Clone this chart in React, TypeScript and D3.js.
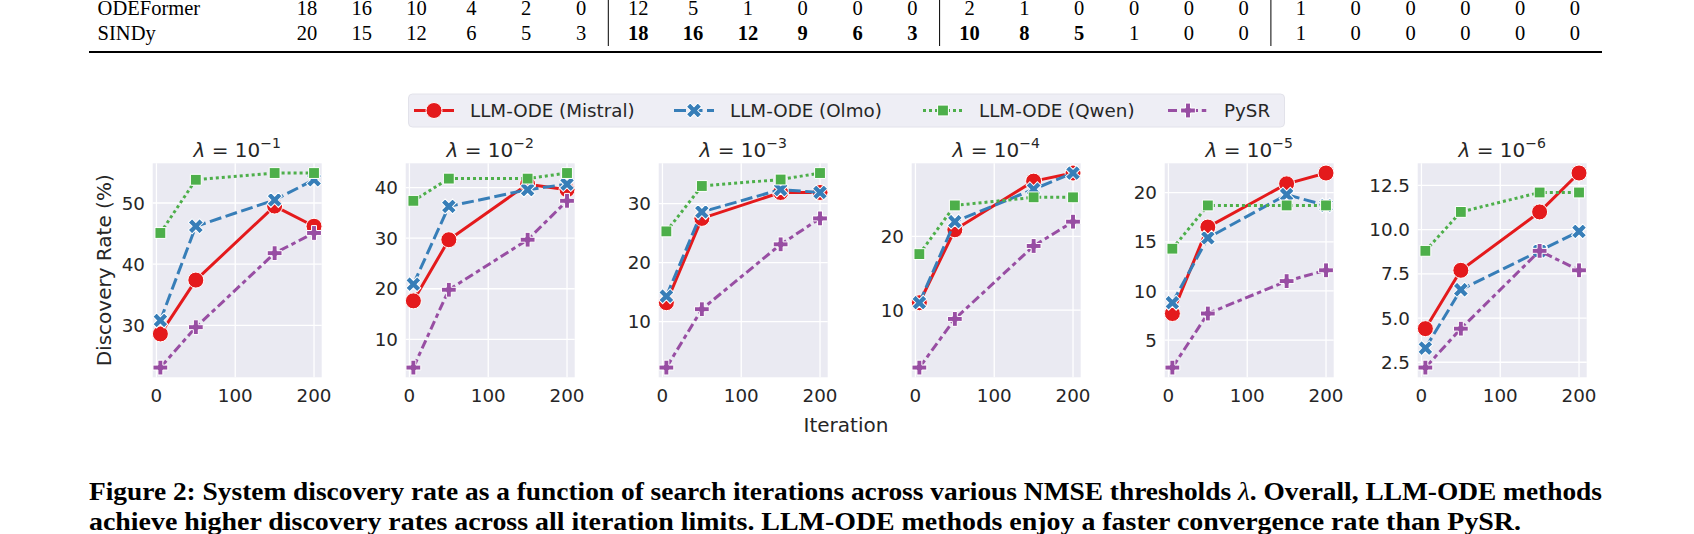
import * as d3 from 'd3'

// iterations on the x axis, shared by all panels
const iterations = [5, 50, 150, 200]
// NMSE threshold exponents, one panel each
const exponents = [-1, -2, -3, -4, -5, -6]

// discovery rate (%) per panel, per iteration
const mistral = [
  [28.6, 37.4, 49.5, 46.2],
  [17.6, 29.7, 40.7, 39.6],
  [13.2, 27.5, 31.9, 31.9],
  [11.0, 20.9, 27.5, 28.6],
  [7.7, 16.5, 20.9, 22.0],
  [4.4, 7.7, 11.0, 13.2],
]
const olmo = [
  [30.8, 46.2, 50.5, 53.8],
  [20.9, 36.3, 39.6, 40.7],
  [14.3, 28.6, 32.4, 31.9],
  [11.0, 22.0, 26.4, 28.6],
  [8.8, 15.4, 19.8, 18.7],
  [3.3, 6.6, 8.8, 9.9],
]
const qwen = [
  [45.1, 53.8, 54.9, 54.9],
  [37.4, 41.8, 41.8, 42.9],
  [25.3, 33.0, 34.1, 35.2],
  [17.6, 24.2, 25.3, 25.3],
  [14.3, 18.7, 18.7, 18.7],
  [8.8, 11.0, 12.1, 12.1],
]
const pysr = [
  [23.1, 29.7, 41.8, 45.1],
  [4.4, 19.8, 29.7, 37.4],
  [2.2, 12.1, 23.1, 27.5],
  [2.2, 8.8, 18.7, 22.0],
  [2.2, 7.7, 11.0, 12.1],
  [2.2, 4.4, 8.8, 7.7],
]

const seriesNames = ['LLM-ODE (Mistral)', 'LLM-ODE (Olmo)', 'LLM-ODE (Qwen)', 'PySR']

const xTicks = [0, 100, 200]
const yTicks = [
  [30, 40, 50],
  [10, 20, 30, 40],
  [10, 20, 30],
  [10, 20],
  [5, 10, 15, 20],
  [2.5, 5, 7.5, 10, 12.5],
]
const yTickDecimals = [0, 0, 0, 0, 0, 1]

// tail of the table above the figure
const tableRows = ['ODEFormer', 'SINDy']
const odeformerCounts = [18, 16, 10, 4, 2, 0, 12, 5, 1, 0, 0, 0, 2, 1, 0, 0, 0, 0, 1, 0, 0, 0, 0, 0]
const sindyCounts = [20, 15, 12, 6, 5, 3, 18, 16, 12, 9, 6, 3, 10, 8, 5, 1, 0, 0, 1, 0, 0, 0, 0, 0]
const sindyBold = [
  false, false, false, false, false, false,
  true, true, true, true, true, true,
  true, true, true, false, false, false,
  false, false, false, false, false, false,
]

const styles = [
  { color: '#e41a1c', dash: undefined, marker: 'circle' },
  { color: '#377eb8', dash: '12 4.5', marker: 'x' },
  { color: '#4daf4a', dash: '3 3', marker: 'square' },
  { color: '#984ea3', dash: '9 3.75 4.5 3.75', marker: 'plus' },
]

const width = 1694
const height = 534
const panel = { left: 152.7, step: 253, width: 169, top: 163.3, bottom: 377.3 }
const textColor = '#262626'
const tickSize = 18.3
const labelSize = 20

function padded([lo, hi]: [number, number]): [number, number] {
  const m = (hi - lo) * 0.05
  return [lo - m, hi + m]
}

function markerPath(kind: string) {
  if (kind === 'circle') return d3.symbol(d3.symbolCircle, Math.PI * 8 * 8)() ?? ''
  if (kind === 'x') return d3.symbol(d3.symbolCross, 140)() ?? ''
  if (kind === 'square') return d3.symbol(d3.symbolSquare, 118)() ?? ''
  return d3.symbol(d3.symbolCross, 122)() ?? ''
}

function Marker({ kind, x, y, color }: { kind: string; x: number; y: number; color: string }) {
  return (
    <path
      d={markerPath(kind)}
      transform={`translate(${x},${y})${kind === 'x' ? ' rotate(45)' : ''}`}
      fill={color}
      stroke="#fff"
      strokeWidth={1}
    />
  )
}

function Panel({ index }: { index: number }) {
  const left = panel.left + index * panel.step
  const series = [mistral[index], olmo[index], qwen[index], pysr[index]]
  const all = series.flat()

  const x = d3
    .scaleLinear()
    .domain(padded(d3.extent(iterations) as [number, number]))
    .range([left, left + panel.width])
  const y = d3
    .scaleLinear()
    .domain(padded(d3.extent(all) as [number, number]))
    .range([panel.bottom, panel.top])

  const line = d3
    .line<number>()
    .x((_, i) => x(iterations[i]))
    .y((d) => y(d))

  const fmt = d3.format(`.${yTickDecimals[index]}f`)

  return (
    <g>
      <rect x={left} y={panel.top} width={panel.width} height={panel.bottom - panel.top} fill="#eaeaf2" />
      {xTicks.map((t) => (
        <line key={`gx${t}`} x1={x(t)} x2={x(t)} y1={panel.top} y2={panel.bottom} stroke="#fff" strokeWidth={1.3} />
      ))}
      {yTicks[index].map((t) => (
        <line key={`gy${t}`} x1={left} x2={left + panel.width} y1={y(t)} y2={y(t)} stroke="#fff" strokeWidth={1.3} />
      ))}

      {series.map((values, s) => (
        <g key={seriesNames[s]}>
          <path
            d={line(values) ?? ''}
            fill="none"
            stroke={styles[s].color}
            strokeWidth={3}
            strokeDasharray={styles[s].dash}
            strokeLinejoin="round"
          />
          {values.map((v, i) => (
            <Marker key={i} kind={styles[s].marker} x={x(iterations[i])} y={y(v)} color={styles[s].color} />
          ))}
        </g>
      ))}

      {xTicks.map((t) => (
        <text key={`tx${t}`} x={x(t)} y={402} textAnchor="middle" fontSize={tickSize} fill={textColor}>
          {t}
        </text>
      ))}
      {yTicks[index].map((t) => (
        <text key={`ty${t}`} x={left - 7.7} y={y(t)} dy="0.36em" textAnchor="end" fontSize={tickSize} fill={textColor}>
          {fmt(t)}
        </text>
      ))}

      <text x={left + panel.width / 2} y={156.5} textAnchor="middle" fontSize={labelSize} fill={textColor}>
        <tspan fontStyle="italic">λ</tspan>
        {' = 10'}
        <tspan dy={-8.5} fontSize={14}>
          {`\u2212${Math.abs(exponents[index])}`}
        </tspan>
      </text>
    </g>
  )
}

function Legend() {
  const handleX = [414, 674, 923, 1168]
  const cy = 110.5
  return (
    <g>
      <rect x={408.5} y={94} width={876} height={33} rx={4} fill="#eeeef5" stroke="#e2e2ea" strokeWidth={1} />
      {seriesNames.map((name, s) => (
        <g key={name}>
          <line
            x1={handleX[s]}
            x2={handleX[s] + 40}
            y1={cy}
            y2={cy}
            stroke={styles[s].color}
            strokeWidth={3}
            strokeDasharray={styles[s].dash}
          />
          <Marker kind={styles[s].marker} x={handleX[s] + 20} y={cy} color={styles[s].color} />
          <text x={handleX[s] + 56} y={cy} dy="0.36em" fontSize={tickSize} fill={textColor}>
            {name}
          </text>
        </g>
      ))}
    </g>
  )
}

function Table() {
  const colX = (c: number) => 307 + Math.floor(c / 6) * 331.3 + (c % 6) * 54.8
  const rows = [odeformerCounts, sindyCounts]
  const baselines = [15, 40]
  return (
    <g fontFamily="'Liberation Serif', serif" fontSize={20.5} fill="#000">
      {tableRows.map((name, r) => (
        <g key={name}>
          <text x={97.6} y={baselines[r]}>
            {name}
          </text>
          {rows[r].map((v, c) => (
            <text
              key={c}
              x={colX(c)}
              y={baselines[r]}
              textAnchor="middle"
              fontWeight={r === 1 && sindyBold[c] ? 'bold' : 'normal'}
            >
              {v}
            </text>
          ))}
        </g>
      ))}
      {[1, 2, 3].map((g) => (
        <line key={g} x1={colX(g * 6) - 30} x2={colX(g * 6) - 30} y1={0} y2={46} stroke="#000" strokeWidth={1} />
      ))}
      <line x1={89} x2={1602} y1={52} y2={52} stroke="#000" strokeWidth={2} />
    </g>
  )
}

function Caption() {
  return (
    <g fontFamily="'Liberation Serif', serif" fontSize={25} fontWeight="bold" fill="#000">
      <text x={89} y={500} textLength={1513} lengthAdjust="spacingAndGlyphs">
        {'Figure 2: System discovery rate as a function of search iterations across various NMSE thresholds '}
        <tspan fontStyle="italic" fontWeight="normal">λ</tspan>
        {'. Overall, LLM-ODE methods'}
      </text>
      <text x={89} y={530} textLength={1432} lengthAdjust="spacingAndGlyphs">
        achieve higher discovery rates across all iteration limits. LLM-ODE methods enjoy a faster convergence rate
        than PySR.
      </text>
    </g>
  )
}

export default function App() {
  return (
    <svg
      width={width}
      height={height}
      viewBox={`0 0 ${width} ${height}`}
      style={{ position: 'absolute', left: 0, top: 0, background: '#fff' }}
      fontFamily="'DejaVu Sans', sans-serif"
    >
      <Table />
      <Legend />
      {exponents.map((e, i) => (
        <Panel key={e} index={i} />
      ))}
      <text x={846} y={431.5} textAnchor="middle" fontSize={labelSize} fill={textColor}>
        Iteration
      </text>
      <text
        transform={`translate(111,${(panel.top + panel.bottom) / 2}) rotate(-90)`}
        textAnchor="middle"
        fontSize={labelSize}
        fill={textColor}
      >
        Discovery Rate (%)
      </text>
      <Caption />
    </svg>
  )
}
